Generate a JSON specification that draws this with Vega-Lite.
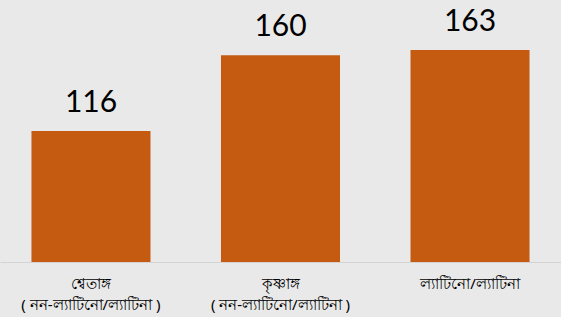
{
  "$schema": "https://vega.github.io/schema/vega-lite/v6.json",
  "width": 561,
  "height": 262,
  "padding": {"top": 0, "left": 0, "right": 0, "bottom": 55},
  "autosize": {"type": "none"},
  "background": "#E9E9E9",
  "config": {"view": {"stroke": null}},
  "data": {"values": [
    {"group": "শ্বেতাঙ্গ|( নন-ল্যাটিনো/ল্যাটিনা )", "value": 116},
    {"group": "কৃষ্ণাঙ্গ|( নন-ল্যাটিনো/ল্যাটিনা )", "value": 160},
    {"group": "ল্যাটিনো/ল্যাটিনা", "value": 163}
  ]},
  "encoding": {
    "x": {"field": "group", "type": "nominal", "sort": null,
      "scale": {"paddingInner": 0.372, "paddingOuter": 0.166},
      "axis": {"title": null, "labelAngle": 0, "ticks": false, "domainColor": "#D4D4D4", "domainWidth": 1,
        "labelExpr": "split(datum.label, '|')", "labelFont": "Noto Sans", "labelFontSize": 15, "labelColor": "#000000",
        "labelPadding": 14, "labelLineHeight": 21}},
    "y": {"field": "value", "type": "quantitative", "scale": {"domain": [40, 192], "zero": false}, "axis": null}
  },
  "layer": [
    {"mark": {"type": "bar", "color": "#C55A11", "clip": true}},
    {"mark": {"type": "text", "dy": -19, "baseline": "alphabetic", "font": "Lato", "fontSize": 30, "color": "#000000"},
      "encoding": {"text": {"field": "value", "type": "quantitative"}}}
  ]
}
